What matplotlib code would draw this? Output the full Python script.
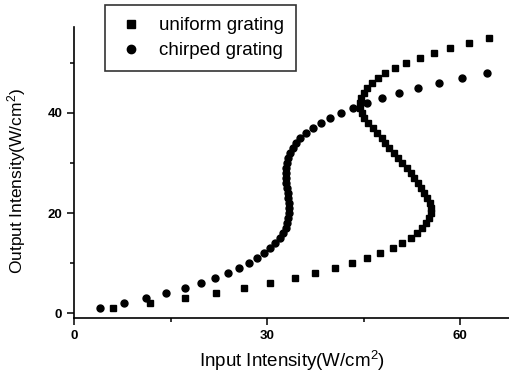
import matplotlib.pyplot as plt
from matplotlib.ticker import MultipleLocator

# uniform grating: output intensity and input intensity
uniform_out = [1, 2, 3, 4, 5, 6, 7, 8, 9, 10, 11, 12, 13, 14, 15, 16, 17, 18, 19, 20,
               21, 22, 23, 24, 25, 26, 27, 28, 29, 30, 31, 32, 33, 34, 35, 36, 37, 38, 39, 40,
               41, 42, 43, 44, 45, 46, 47, 48, 49, 50, 51, 52, 53, 54, 55]
uniform_in = [6.1, 11.8, 17.2, 22.0, 26.4, 30.5, 34.3, 37.5, 40.5, 43.2,
              45.6, 47.6, 49.5, 51.0, 52.3, 53.3, 54.1, 54.7, 55.2, 55.5,
              55.5, 55.3, 54.9, 54.4, 53.9, 53.4, 52.9, 52.3, 51.7, 51.0,
              50.4, 49.7, 49.0, 48.4, 47.8, 47.1, 46.4, 45.7, 45.1, 44.7,
              44.5, 44.4, 44.6, 45.0, 45.6, 46.3, 47.2, 48.4, 49.9, 51.6,
              53.7, 55.9, 58.5, 61.4, 64.5]

# chirped grating
chirped_out = [1, 2, 3, 4, 5, 6, 7, 8, 9, 10, 11, 12, 13, 14, 15, 16, 17, 18, 19, 20,
               21, 22, 23, 24, 25, 26, 27, 28, 29, 30, 31, 32, 33, 34, 35, 36, 37, 38, 39, 40,
               41, 42, 43, 44, 45, 46, 47, 48]
chirped_in = [4.0, 7.8, 11.2, 14.3, 17.2, 19.8, 21.9, 24.0, 25.7, 27.2,
              28.5, 29.6, 30.5, 31.3, 32.0, 32.5, 32.9, 33.1, 33.3, 33.4,
              33.4, 33.4, 33.3, 33.2, 33.1, 33.0, 33.0, 33.0, 33.0, 33.1,
              33.3, 33.6, 34.0, 34.5, 35.1, 36.1, 37.2, 38.4, 39.8, 41.5,
              43.4, 45.5, 47.9, 50.5, 53.4, 56.7, 60.3, 64.2]

plt.rcParams['font.family'] = ['Liberation Sans', 'DejaVu Sans']
plt.rcParams['mathtext.default'] = 'regular'

fig = plt.figure(figsize=(5.09, 3.78), dpi=100)
ax = fig.add_axes([0.1454, 0.1587, 0.8546, 0.7699])

ax.plot(uniform_in, uniform_out, 's', color='black', markersize=4.3, label='uniform grating')
ax.plot(chirped_in, chirped_out, 'o', color='black', markersize=5, label='chirped grating')

ax.set_xlim(0, 67.6)
ax.set_ylim(-1, 57.2)
ax.spines['top'].set_visible(False)
ax.spines['right'].set_visible(False)
ax.spines['left'].set_linewidth(1.2)
ax.spines['bottom'].set_linewidth(1.2)

ax.xaxis.set_major_locator(MultipleLocator(30))
ax.xaxis.set_minor_locator(MultipleLocator(15))
ax.yaxis.set_major_locator(MultipleLocator(20))
ax.yaxis.set_minor_locator(MultipleLocator(10))
ax.tick_params(which='major', direction='out', length=5, width=1.1, labelsize=9.5)
ax.tick_params(which='minor', direction='out', length=3, width=1.1)
for lbl in ax.get_xticklabels() + ax.get_yticklabels():
    lbl.set_fontweight('bold')

ax.set_xlabel('Input Intensity(W/cm$^2$)', fontsize=13.5, labelpad=5)
ax.set_ylabel('Output Intensity(W/cm$^2$)', fontsize=12.5)
ax.yaxis.set_label_coords(-0.105, 0.47)

leg = ax.legend(loc='upper left', bbox_to_anchor=(0.206, 0.987), bbox_transform=fig.transFigure,
                borderaxespad=0, fancybox=False, edgecolor='black', fontsize=13.5,
                handlelength=1.5, handletextpad=0.75, borderpad=0.65, labelspacing=0.42,
                markerscale=1.2)
leg.get_frame().set_linewidth(1.2)

fig.savefig('out.png', dpi=100)
